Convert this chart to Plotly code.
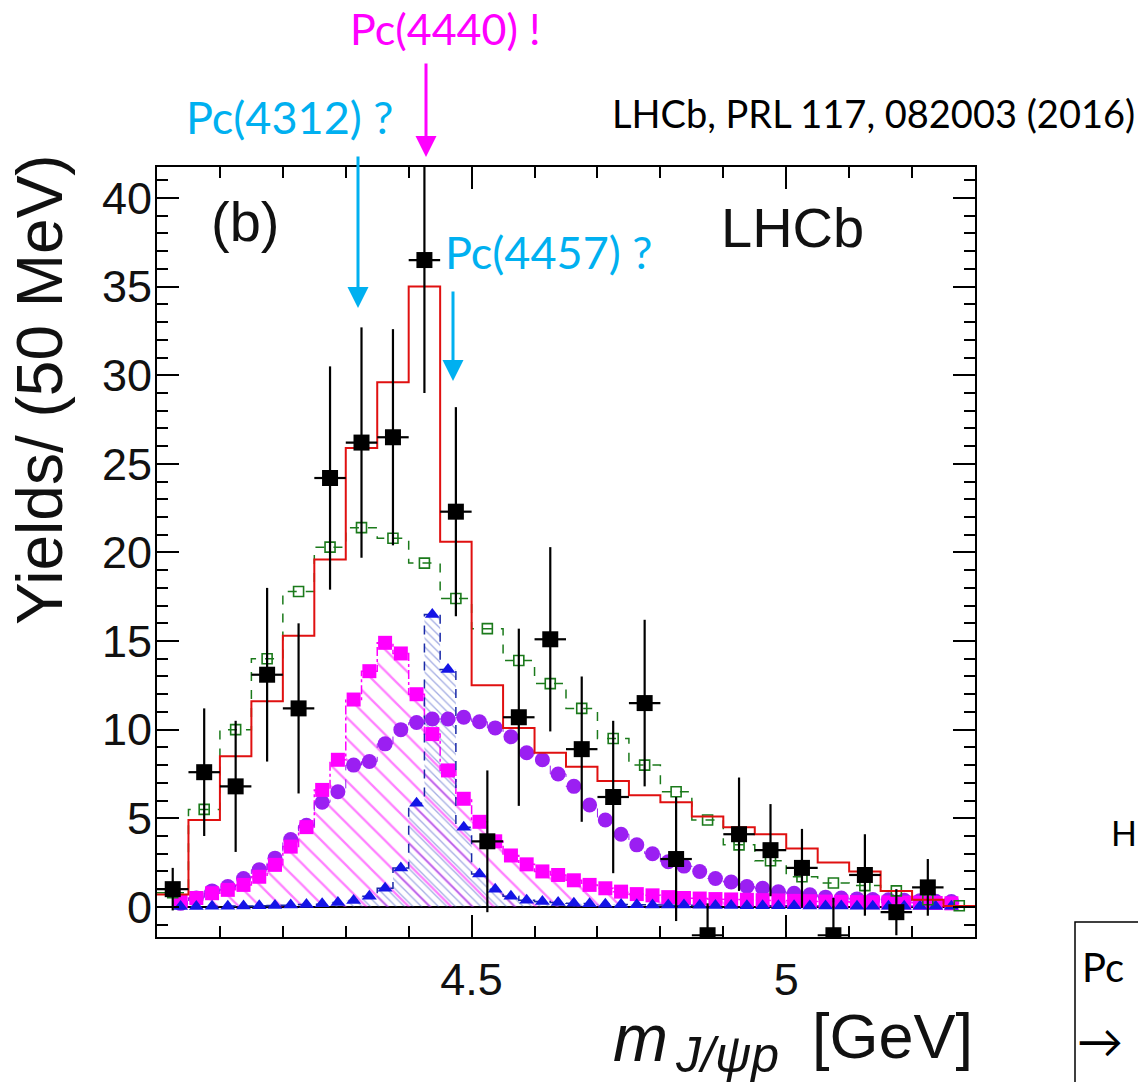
import numpy as np
import plotly.graph_objects as go

# ---------------- data ----------------
# LHCb data, 50 MeV bins starting at 4.00 GeV
data_bin_low = 4.0
data_bin_width = 0.05
data_yield = [1.0, 7.6, 6.8, 13.1, 11.2, 24.2, 26.2, 26.5, 36.5, 22.3, 3.7, 10.7, 15.1,
              8.9, 6.2, 11.5, 2.7, -1.6, 4.1, 3.2, 2.2, -1.6, 1.8, -0.3, 1.1]
data_err = [1.2, 3.6, 3.7, 4.9, 4.8, 6.3, 6.5, 6.1, 7.5, 5.9, 4.0, 5.0, 5.2,
            4.1, 4.3, 4.7, 3.5, 1.8, 3.2, 2.6, 2.2, 2.1, 2.3, 1.3, 1.6]

# total fit (red) and the open-square green histogram, same 50 MeV binning
fit_total = [0.7, 4.9, 8.5, 11.6, 15.3, 19.6, 25.9, 29.6, 35.0, 20.6, 12.5, 10.1, 8.7,
             7.9, 7.1, 6.3, 5.9, 5.1, 4.5, 4.1, 3.3, 2.5, 2.0, 0.9, 0.4, 0.05]
fit_green = [0.8, 5.5, 10.0, 14.0, 17.8, 20.3, 21.4, 20.8, 19.4, 17.4, 15.7, 13.9, 12.6,
             11.2, 9.5, 8.0, 6.5, 4.9, 3.5, 2.6, 1.7, 1.35, 1.2, 0.9, 0.4, 0.06]

# components, 25 MeV bins starting at 4.025 GeV
comp_bin_low = 4.025
comp_bin_width = 0.025
comp_magenta = [0.3, 0.5, 0.77, 0.96, 1.24, 1.7, 2.37, 3.4, 4.5, 6.6, 8.3, 11.7, 13.3, 14.9,
                14.3, 12.0, 9.75, 7.7, 6.1, 4.8, 3.7, 2.9, 2.4, 2.0, 1.8, 1.5, 1.24, 1.05,
                0.86, 0.72, 0.65, 0.55, 0.5, 0.47, 0.44, 0.42, 0.4, 0.38, 0.36, 0.34, 0.32,
                0.3, 0.29, 0.27, 0.26, 0.25, 0.24, 0.23, 0.22, 0.2]
comp_purple = [0.2, 0.5, 0.9, 1.15, 1.6, 2.1, 2.75, 3.8, 4.6, 5.9, 6.5, 8.0, 8.2, 9.2, 10.0,
               10.4, 10.6, 10.6, 10.7, 10.45, 10.1, 9.6, 8.7, 8.3, 7.5, 6.8, 5.75, 4.9, 4.1,
               3.5, 3.0, 2.55, 2.3, 2.0, 1.6, 1.4, 1.15, 1.05, 0.85, 0.77, 0.68, 0.55, 0.5,
               0.45, 0.42, 0.4, 0.37, 0.35, 0.32, 0.3]
comp_blue = [0.02, 0.02, 0.03, 0.03, 0.05, 0.06, 0.08, 0.1, 0.13, 0.17, 0.25, 0.36, 0.6, 1.05,
             2.2, 5.85, 16.5, 13.4, 4.5, 1.85, 1.0, 0.6, 0.38, 0.3, 0.25, 0.2, 0.18, 0.15,
             0.13, 0.12, 0.11, 0.1, 0.1, 0.09, 0.08, 0.08, 0.07, 0.07, 0.06, 0.06, 0.05,
             0.05, 0.05, 0.04, 0.04, 0.04, 0.03, 0.03, 0.03, 0.03]

x_tick_vals = [4.5, 5.0]
x_tick_text = ["4.5", "5"]
y_tick_vals = [0, 5, 10, 15, 20, 25, 30, 35, 40]

# ---------------- helpers ----------------
def centers(low, width, n):
    return low + width * (np.arange(n) + 0.5)


def step_xy(low, width, vals):
    edges = low + width * np.arange(len(vals) + 1)
    xs = np.repeat(edges, 2)[1:-1]
    ys = np.repeat(np.asarray(vals, dtype=float), 2)
    return xs, ys


W, H = 1138, 1082
L, R, T, B = 157, 975, 167, 937  # plot frame in pixels


def P(px, py):
    return (px - L) / (R - L), (B - py) / (B - T)


MAG = "#ff00ff"
PURPLE = "#9b1ff2"
BLUE = "#1414e6"
NAVY = "#1a2aa8"
GREEN = "#1b7a1b"
RED = "#e01010"
CYAN = "#00b0f0"
ROOTFONT = "Liberation Sans, Arial, sans-serif"
SLIDEFONT = "Lato, Carlito, sans-serif"

fig = go.Figure()

# hatched magenta component
xs, ys = step_xy(comp_bin_low, comp_bin_width, comp_magenta)
fig.add_trace(go.Scatter(x=xs, y=ys, mode="lines", fill="tozeroy",
                         fillcolor="rgba(0,0,0,0)",
                         fillpattern=dict(shape="\\", fgcolor=MAG, size=15, solidity=0.15),
                         line=dict(color=MAG, width=1.5, dash="dashdot"),
                         hoverinfo="skip", showlegend=False))
# hatched blue component
xs, ys = step_xy(comp_bin_low, comp_bin_width, comp_blue)
fig.add_trace(go.Scatter(x=xs, y=ys, mode="lines", fill="tozeroy",
                         fillcolor="rgba(0,0,0,0)",
                         fillpattern=dict(shape="\\", fgcolor="#4a5cc8", size=6, solidity=0.22),
                         line=dict(color=NAVY, width=1.5, dash="dash"),
                         hoverinfo="skip", showlegend=False))
# purple step line
xs, ys = step_xy(comp_bin_low, comp_bin_width, comp_purple)
fig.add_trace(go.Scatter(x=xs, y=ys, mode="lines",
                         line=dict(color=PURPLE, width=1.0, dash="dash"),
                         hoverinfo="skip", showlegend=False))

cc = centers(comp_bin_low, comp_bin_width, len(comp_purple))
fig.add_trace(go.Scatter(x=cc, y=comp_purple, mode="markers",
                         marker=dict(symbol="circle", size=15, color=PURPLE),
                         showlegend=False))
fig.add_trace(go.Scatter(x=cc, y=comp_magenta, mode="markers",
                         marker=dict(symbol="square", size=14, color=MAG),
                         showlegend=False))
fig.add_trace(go.Scatter(x=cc, y=comp_blue, mode="markers",
                         marker=dict(symbol="triangle-up", size=13, color=BLUE),
                         showlegend=False))

# green histogram with open squares
xs, ys = step_xy(data_bin_low, data_bin_width, fit_green)
fig.add_trace(go.Scatter(x=xs, y=ys, mode="lines",
                         line=dict(color=GREEN, width=1.5, dash="dash"),
                         hoverinfo="skip", showlegend=False))
gc = centers(data_bin_low, data_bin_width, len(fit_green))
fig.add_trace(go.Scatter(x=gc, y=fit_green, mode="markers",
                         marker=dict(symbol="square-open", size=10, color=GREEN,
                                     line=dict(width=1.6, color=GREEN)),
                         showlegend=False))

# red total fit
xs, ys = step_xy(data_bin_low, data_bin_width, fit_total)
fig.add_trace(go.Scatter(x=xs, y=ys, mode="lines",
                         line=dict(color=RED, width=2),
                         hoverinfo="skip", showlegend=False))

# data points
dc = centers(data_bin_low, data_bin_width, len(data_yield))
fig.add_trace(go.Scatter(x=dc, y=data_yield, mode="markers",
                         marker=dict(symbol="square", size=16, color="black"),
                         error_y=dict(type="data", array=data_err, color="black",
                                      thickness=2.2, width=0),
                         error_x=dict(type="constant", value=data_bin_width / 2,
                                      color="black", thickness=2.2, width=0),
                         showlegend=False))

annotations = []


def text(px, py, s, color, size, family, xanchor="center", angle=0):
    x, y = P(px, py)
    annotations.append(dict(x=x, y=y, xref="paper", yref="paper", text=s, showarrow=False,
                            xanchor=xanchor, yanchor="middle", textangle=angle,
                            font=dict(color=color, size=size, family=family)))


def arrow(px, py_tail, py_head, color):
    x, y = P(px, py_head)
    annotations.append(dict(x=x, y=y, xref="paper", yref="paper", text="", showarrow=True,
                            ax=0, ay=py_tail - py_head, axref="pixel", ayref="pixel",
                            arrowhead=2, arrowsize=1.4, arrowwidth=3, arrowcolor=color))


text(245, 222, "(b)", "#111111", 56, ROOTFONT)
text(792, 228, "LHCb", "#111111", 56, ROOTFONT)
text(40, 390, "Yields/ (50 MeV)", "#111111", 64, ROOTFONT, angle=-90)
# x-axis title: m, subscript J/ψp, [GeV]
text(611, 1038, "<i>m</i>", "#111111", 66, ROOTFONT, xanchor="left")
text(673, 1055, "<i>J/ψp</i>", "#111111", 50, ROOTFONT, xanchor="left")
text(975, 1036, "[GeV]", "#111111", 63, ROOTFONT, xanchor="right")

text(445, 28, "Pc(4440) !", MAG, 43, SLIDEFONT)
text(289, 117, "Pc(4312) ?", CYAN, 45, SLIDEFONT)
text(548, 252, "Pc(4457) ?", CYAN, 45, SLIDEFONT)
text(873, 113, "LHCb, PRL 117, 082003 (2016)", "black", 38, SLIDEFONT)
text(1109, 832, "H", "black", 34, SLIDEFONT, xanchor="left")
text(1080, 967, "Pc", "black", 40, SLIDEFONT, xanchor="left")
text(1075, 1040, "→", "black", 46, SLIDEFONT, xanchor="left")

arrow(426, 62, 157, MAG)
arrow(358, 155, 308, CYAN)
arrow(453, 290, 381, CYAN)

bx0, by0 = P(1075, 922)
bx1, by1 = P(1145, 1090)
shapes = [dict(type="rect", xref="paper", yref="paper", x0=bx0, y0=by0, x1=bx1, y1=by1,
               line=dict(color="black", width=1.5), fillcolor="rgba(0,0,0,0)")]

axis_common = dict(showline=True, linewidth=2, linecolor="black", mirror="ticks",
                   ticks="inside", ticklen=22, tickwidth=1.5, tickcolor="black",
                   showgrid=False, tickfont=dict(size=45, family=ROOTFONT, color="#111111"))

fig.update_layout(
    width=W, height=H,
    margin=dict(l=L, r=W - R, t=T, b=H - B, pad=0),
    paper_bgcolor="white", plot_bgcolor="white",
    xaxis=dict(range=[4.0, 5.30], tickmode="array", tickvals=x_tick_vals, ticktext=x_tick_text,
               zeroline=False, ticklabelstandoff=2,
               minor=dict(dtick=0.1, tick0=4.0, ticks="inside", ticklen=11, tickwidth=1.5,
                          tickcolor="black", showgrid=False),
               **axis_common),
    yaxis=dict(range=[-1.7, 41.75], tickmode="array", tickvals=y_tick_vals,
               zeroline=True, zerolinecolor="black", zerolinewidth=1.5, ticklabelstandoff=-6,
               minor=dict(dtick=1, tick0=0, ticks="inside", ticklen=11, tickwidth=1.5,
                          tickcolor="black", showgrid=False),
               **axis_common),
    annotations=annotations,
    shapes=shapes,
    showlegend=False,
)

fig.write_html("out.html", config={"displayModeBar": False},
               post_script="document.body.style.margin='0';document.body.style.overflow='hidden';")
